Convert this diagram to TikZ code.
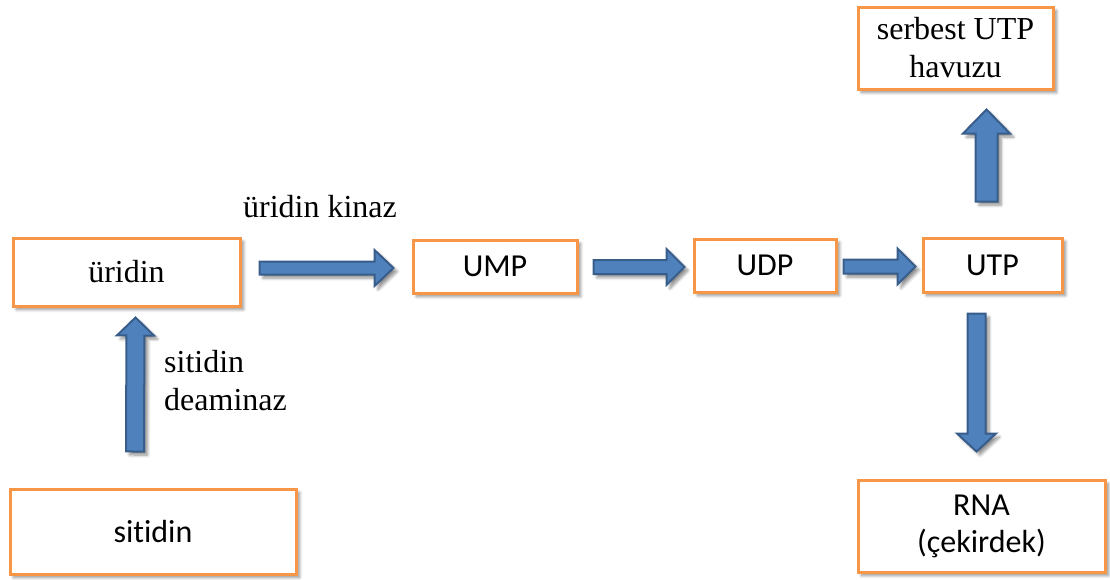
\documentclass[tikz,border=0pt]{standalone}
\usepackage{fontspec}
\setmainfont{Liberation Serif}
\newfontfamily\calfont[Ligatures=NoCommon]{Carlito}
\usetikzlibrary{calc,shadows.blur}
\definecolor{boxorange}{HTML}{F79646}
\definecolor{arrfill}{HTML}{4F81BD}
\definecolor{arrline}{HTML}{385D8A}
\tikzset{
  box/.style={draw=boxorange, line width=3pt, fill=white, inner sep=0pt, align=center,
    blur shadow={shadow xshift=3.5pt, shadow yshift=-3.5pt, shadow opacity=45, shadow blur steps=6, shadow blur radius=3pt}},
  serif/.style={font=\fontsize{32}{38}\selectfont},
  sans/.style={font=\calfont\fontsize{32}{37}\selectfont},
  lbl/.style={font=\fontsize{32}{38}\selectfont, inner sep=0pt},
  blockarrow/.style={fill=arrfill, draw=arrline, line width=2pt, line join=miter,
    blur shadow={shadow xshift=3.5pt, shadow yshift=-3.5pt, shadow opacity=45, shadow blur steps=6, shadow blur radius=3pt}}
}
% #1 start, #2 end, #3 shaft half width, #4 head half width, #5 head length
\newcommand{\blockarr}[5]{%
  \coordinate (bs) at #1;
  \coordinate (be) at #2;
  \coordinate (bh) at ($(be)!#5pt!(bs)$);
  \draw[blockarrow] ($(bs)!#3pt!90:(be)$) -- ($(bh)!#3pt!90:(be)$) -- ($(bh)!#4pt!90:(be)$)
    -- (be) -- ($(bh)!#4pt!-90:(be)$) -- ($(bh)!#3pt!-90:(be)$) -- ($(bs)!#3pt!-90:(be)$) -- cycle;
}
\begin{document}
\begin{tikzpicture}[x=1pt,y=-1pt]
\useasboundingbox (0,0) rectangle (1110,579);
\node[box, serif, minimum width=227pt, minimum height=68pt] (urd) at (126.5,272) {üridin};
\node[box, sans, minimum width=164pt, minimum height=53pt] (ump) at (495,266.5) {UMP};
\node[box, sans, minimum width=142pt, minimum height=53pt] (udp) at (765,265.5) {UDP};
\node[box, sans, minimum width=139pt, minimum height=54pt] (utp) at (992.5,265) {UTP};
\node[box, serif, minimum width=195pt, minimum height=82pt] (srb) at (955.5,48) {serbest UTP\\havuzu};
\node[box, sans, minimum width=286pt, minimum height=85pt] (sit) at (153,531.5) {sitidin};
\node[box, sans, minimum width=247pt, minimum height=92pt] (rna) at (981.5,526) {RNA\\(çekirdek)};

\node[lbl] (kin) at (320,207) {üridin kinaz};
\node[lbl, anchor=west, align=left] (dea) at (164,381) {sitidin\\deaminaz};

\blockarr{($(urd.east)+(18,-4)$)}{($(ump.west)+(-18,1.5)$)}{6.5}{18}{19}
\blockarr{($(ump.east)+(15,0.5)$)}{($(udp.west)+(-8,1.5)$)}{7}{18}{18}
\blockarr{($(udp.east)+(6,1)$)}{($(utp.west)+(-6,1.5)$)}{7}{18}{18}
\blockarr{($(sit.north)+(-18,-36)$)}{($(urd.south)+(9,10)$)}{9}{18.5}{18}
\blockarr{($(utp.north)+(-6,-35)$)}{($(srb.south)+(31,19)$)}{11}{23.5}{24}
\blockarr{($(utp.south)+(-16,20)$)}{($(rna.north)+(-5,-27)$)}{9}{19.5}{18}
\end{tikzpicture}
\end{document}
